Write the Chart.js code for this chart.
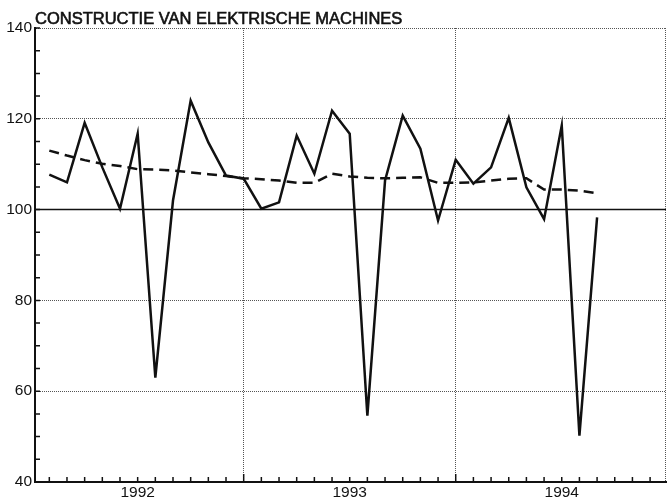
<!DOCTYPE html>
<html>
<head>
<meta charset="utf-8">
<script src="https://cdn.jsdelivr.net/npm/chart.js@4.4.1/dist/chart.umd.min.js"></script>
<style>
  html, body { margin: 0; padding: 0; background: #fff; }
  #wrap { width: 669px; height: 500px; }
</style>
</head>
<body>
<div id="wrap"><canvas id="chart"></canvas></div>
<script>
const chartTitle = 'CONSTRUCTIE VAN ELEKTRISCHE MACHINES';

// months counted from jan 1992 (= 0), feb 1992 .. sep 1994
const months = [1, 2, 3, 4, 5, 6, 7, 8, 9, 10, 11, 12, 13, 14, 15, 16,
                17, 18, 19, 20, 21, 22, 23, 24, 25, 26, 27, 28, 29, 30, 31, 32];

// monthly index (solid line)
const production = [107.7, 106.0, 119.1, 109.3, 100.2, 116.7, 63.0, 102.0,
                    124.0, 114.8, 107.5, 106.8, 100.2, 101.6, 116.3, 107.9,
                    121.8, 116.7, 54.6, 106.4, 120.7, 113.4, 97.6, 111.0,
                    105.7, 109.3, 120.2, 104.9, 97.9, 118.5, 50.2, 98.3];

// trend (dashed line)
const trend = [113.0, 111.9, 110.9, 110.1, 109.6, 108.9, 108.8, 108.6,
               108.2, 107.8, 107.4, 106.9, 106.7, 106.4, 105.9, 105.9,
               107.9, 107.3, 107.0, 106.9, 107.0, 107.1, 105.9, 105.9,
               106.0, 106.4, 106.8, 106.9, 104.4, 104.4, 104.2, 103.6];

const years = ['1992', '1993', '1994'];
const yLabels = [40, 60, 80, 100, 120, 140];

const ink = '#111';
const dotted = '#555';
const font = { family: 'Liberation Sans, Arial, sans-serif', size: 15.5 };

const toPoints = (vals) => vals.map((v, i) => ({ x: months[i], y: v }));

// inward ticks, solid 100 line, dotted right frame and the title
const framePlugin = {
    id: 'frame',
    beforeDatasetsDraw(chart) {
        const { ctx, chartArea: a, scales: { y } } = chart;
        const p = y.getPixelForValue(100);
        ctx.save();
        ctx.strokeStyle = ink;
        ctx.lineWidth = 1.5;
        ctx.beginPath();
        ctx.moveTo(a.left, p);
        ctx.lineTo(a.right, p);
        ctx.stroke();

        ctx.strokeStyle = dotted;
        ctx.lineWidth = 1;
        ctx.setLineDash([1, 1]);
        ctx.beginPath();
        ctx.moveTo(a.right - 0.5, a.top);
        ctx.lineTo(a.right - 0.5, a.bottom);
        ctx.stroke();
        ctx.restore();
    },
    afterDraw(chart) {
        const { ctx, chartArea: a, scales: { x, y } } = chart;
        ctx.save();
        ctx.strokeStyle = ink;
        ctx.lineWidth = 1.5;
        ctx.beginPath();
        y.ticks.forEach(t => {
            const py = y.getPixelForValue(t.value);
            ctx.moveTo(a.left, py);
            ctx.lineTo(a.left + 5, py);
        });
        x.ticks.forEach(t => {
            const px = x.getPixelForValue(t.value);
            const len = t.value % 12 === 0 ? 8 : 5;
            ctx.moveTo(px, a.bottom);
            ctx.lineTo(px, a.bottom - len);
        });
        ctx.stroke();

        // title, slightly heavier like the print
        ctx.fillStyle = ink;
        ctx.strokeStyle = ink;
        ctx.lineWidth = 0.6;
        ctx.font = '16.5px "Liberation Sans", Arial, sans-serif';
        ctx.textBaseline = 'alphabetic';
        ctx.fillText(chartTitle, a.left, 24);
        ctx.strokeText(chartTitle, a.left, 24);
        ctx.restore();
    }
};

const ctx = document.getElementById('chart').getContext('2d');
new Chart(ctx, {
    type: 'line',
    data: {
        datasets: [{
            label: 'index',
            data: toPoints(production),
            borderColor: ink,
            borderWidth: 2.5,
            pointRadius: 0,
            tension: 0
        }, {
            label: 'trend',
            data: toPoints(trend),
            borderColor: ink,
            borderWidth: 2.5,
            borderDash: [10, 6],
            pointRadius: 0,
            tension: 0
        }]
    },
    options: {
        responsive: true,
        maintainAspectRatio: false,
        animation: false,
        layout: { padding: { top: 28, right: 3, left: 0, bottom: 0 } },
        plugins: {
            legend: { display: false },
            tooltip: { enabled: false }
        },
        scales: {
            x: {
                type: 'linear',
                min: 0.19,
                max: 35.9,
                afterBuildTicks: (scale) => {
                    const t = [];
                    for (let m = 1; m < 36; m++) t.push({ value: m });
                    scale.ticks = t;
                },
                afterFit: (scale) => { scale.height = 18; },
                ticks: {
                    autoSkip: false,
                    maxRotation: 0,
                    padding: 1,
                    color: ink,
                    font: font,
                    callback: (v) => v % 12 === 6 ? years[(v - 6) / 12] : ''
                },
                grid: {
                    drawTicks: false,
                    lineWidth: 1,
                    color: (c) => c.tick && c.tick.value % 12 === 0 ? dotted : 'rgba(0,0,0,0)'
                },
                border: { color: ink, width: 2, dash: [1, 1] }
            },
            y: {
                min: yLabels[0],
                max: yLabels[yLabels.length - 1],
                afterFit: (scale) => { scale.width = 35; },
                ticks: {
                    stepSize: 5,
                    autoSkip: false,
                    padding: 3,
                    color: ink,
                    font: font,
                    callback: (v) => yLabels.includes(v) ? String(v) : ''
                },
                grid: {
                    drawTicks: false,
                    lineWidth: 1,
                    color: (c) => {
                        const v = c.tick ? c.tick.value : 0;
                        return yLabels.includes(v) && v !== 100 && v !== 40 ? dotted : 'rgba(0,0,0,0)';
                    }
                },
                border: { color: ink, width: 2, dash: [1, 1] }
            }
        }
    },
    plugins: [framePlugin]
});
</script>
</body>
</html>
